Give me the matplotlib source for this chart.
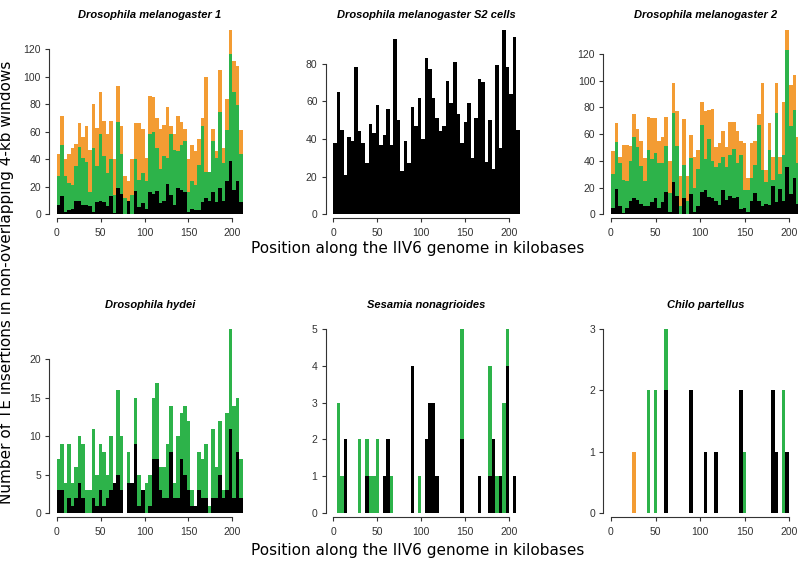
import numpy as np
import matplotlib.pyplot as plt

# start of each 4-kb window along the IIV6 genome (kb)
windows = np.arange(0, 212, 4)

# Drosophila melanogaster 1 : counts per window
mel1_black = [7, 13, 2, 3, 4, 10, 10, 7, 7, 6, 2, 9, 10, 9, 6, 13, 1, 19, 15, 0, 10, 0, 17, 5, 8, 4,
              16, 15, 17, 8, 10, 22, 14, 7, 19, 18, 16, 2, 4, 3, 3, 9, 12, 10, 16, 9, 19, 10, 24, 39, 18, 24, 9]
mel1_green = [21, 37, 26, 20, 17, 25, 39, 34, 31, 10, 46, 26, 48, 33, 24, 27, 13, 48, 29, 12, 0, 14, 23, 20, 22, 20,
              42, 45, 31, 25, 32, 19, 44, 40, 27, 32, 37, 14, 20, 18, 33, 55, 19, 21, 37, 32, 55, 27, 37, 77, 71, 55, 35]
mel1_orange = [16, 21, 12, 21, 27, 16, 17, 15, 26, 31, 32, 28, 31, 26, 28, 28, 26, 26, 20, 16, 14, 26, 26, 41, 32, 17,
               28, 25, 22, 29, 23, 37, 6, 11, 25, 17, 9, 24, 26, 25, 19, 6, 69, 0, 9, 5, 31, 11, 23, 18, 22, 29, 17]

# Drosophila melanogaster S2 cells
s2_black = [38, 65, 45, 21, 41, 39, 78, 44, 38, 27, 48, 43, 58, 37, 42, 56, 37, 93, 50, 23, 39, 27, 57, 47, 62, 40,
            83, 77, 62, 51, 44, 47, 71, 59, 81, 53, 38, 49, 59, 30, 51, 72, 70, 28, 50, 24, 79, 35, 98, 78, 64, 94, 45]

# Drosophila melanogaster 2
mel2_black = [5, 19, 6, 1, 5, 10, 12, 11, 8, 6, 6, 9, 12, 5, 9, 17, 2, 24, 14, 0, 12, 0, 15, 2, 6, 17,
              18, 13, 12, 10, 7, 18, 11, 14, 12, 13, 4, 5, 2, 10, 16, 10, 6, 8, 7, 21, 9, 19, 10, 35, 15, 27, 8]
mel2_green = [25, 35, 32, 25, 20, 30, 46, 39, 28, 19, 42, 32, 34, 33, 29, 34, 14, 52, 37, 6, 25, 10, 27, 18, 28, 50,
              23, 43, 28, 25, 31, 25, 24, 30, 37, 25, 40, 13, 16, 17, 21, 57, 27, 16, 41, 5, 67, 11, 34, 88, 51, 51, 30]
mel2_orange = [17, 14, 5, 26, 27, 11, 17, 14, 19, 17, 25, 31, 26, 17, 20, 22, 24, 22, 26, 23, 34, 19, 17, 23, 14, 17,
               36, 22, 39, 15, 15, 19, 15, 25, 20, 24, 11, 35, 9, 26, 18, 8, 65, 9, 20, 17, 22, 13, 40, 15, 31, 26, 20]

# Drosophila hydei
hyd_black = [3, 3, 0, 2, 1, 2, 4, 2, 0, 0, 2, 1, 3, 1, 2, 3, 4, 5, 3, 0, 4, 4, 9, 1, 3, 0,
             1, 7, 7, 3, 2, 2, 8, 2, 2, 7, 5, 3, 1, 1, 3, 2, 2, 0, 2, 2, 5, 2, 3, 11, 2, 8, 2]
hyd_green = [4, 6, 4, 7, 3, 4, 6, 7, 3, 3, 9, 4, 6, 7, 3, 7, 0, 11, 7, 0, 4, 0, 6, 4, 0, 4,
             4, 8, 10, 3, 4, 7, 6, 2, 8, 6, 9, 9, 2, 0, 5, 5, 7, 1, 9, 4, 7, 1, 10, 13, 12, 7, 5]

# Sesamia nonagrioides (only windows with insertions)
ses_windows = [4, 8, 12, 28, 36, 40, 44, 48, 56, 60, 64, 88, 96, 104, 108, 112, 116, 144, 164, 176, 180, 184, 188, 192, 196, 204]
ses_black = [0, 0, 2, 0, 1, 0, 0, 0, 1, 2, 0, 4, 0, 2, 3, 3, 1, 2, 1, 1, 2, 0, 1, 0, 4, 1]
ses_green = [3, 1, 0, 2, 1, 1, 1, 2, 0, 0, 1, 0, 1, 0, 0, 0, 0, 3, 0, 3, 0, 1, 0, 3, 1, 0]

# Chilo partellus
chi_windows = [24, 40, 48, 60, 88, 104, 116, 144, 148, 180, 184, 192, 196]
chi_black = [0, 0, 0, 2, 2, 1, 1, 2, 0, 2, 1, 0, 1]
chi_green = [0, 2, 2, 1, 0, 0, 0, 0, 1, 0, 0, 2, 0]
chi_orange = [1, 0, 0, 0, 0, 0, 0, 0, 0, 0, 0, 0, 0]

ORANGE = "#f39c33"
GREEN = "#2db34a"
AXCOL = "#333333"

W, H = 798, 561
fig = plt.figure(figsize=(W / 100, H / 100), dpi=100)

col_x0 = [56.7, 333.3, 611.0]     # pixel of 0 kb
col_scale = [0.878, 0.880, 0.890]  # pixels per kb
row_y0 = [214.3, 513.3]            # pixel of count 0


def panel(row, col, title, xs, layers, ymax, yticks):
    s = col_scale[col]
    left = col_x0[col] - 0.04 * 212 * s
    width = 212 * 1.08 * s
    top = row_y0[row] - 192
    bottom = row_y0[row] + 3.3
    ax = fig.add_axes([left / W, 1 - bottom / H, width / W, (bottom - top) / H])
    unit = 192 / (ymax * 1.04)
    ax.set_xlim(-0.04 * 212, 212 * 1.04)
    ax.set_ylim(-3.3 / unit, ymax * 1.04)

    # stacked counts: black at the bottom, then green, then orange
    base = np.zeros(len(xs))
    for vals, colr in layers:
        vals = np.array(vals)
        ax.bar(xs, vals, width=4, bottom=base, align="edge", color=colr,
               linewidth=0, antialiased=False)
        base = base + vals

    for side in ["top", "right"]:
        ax.spines[side].set_visible(False)
    ax.spines["left"].set_bounds(0, yticks[-1])
    ax.spines["bottom"].set_bounds(0, 200)
    for side in ["left", "bottom"]:
        ax.spines[side].set_color(AXCOL)
        ax.spines[side].set_linewidth(0.8)
    ax.set_xticks([0, 50, 100, 150, 200])
    ax.set_yticks(yticks)
    ax.tick_params(colors=AXCOL, length=3, width=0.8, labelsize=7.5)
    ax.tick_params(axis="x", pad=4.5)
    ax.tick_params(axis="y", pad=3)
    for lab in ax.get_xticklabels() + ax.get_yticklabels():
        lab.set_family("Liberation Sans")
    ax.patch.set_visible(False)

    cx = left + width / 2
    ty = 15 if row == 0 else 305
    fig.text(cx / W, 1 - ty / H, title, ha="center", va="center", size=8,
             fontweight="bold", fontstyle="italic", family="Liberation Sans")
    return ax


panel(0, 0, "Drosophila melanogaster 1", windows,
      [(mel1_black, "black"), (mel1_green, GREEN), (mel1_orange, ORANGE)],
      134, [0, 20, 40, 60, 80, 100, 120])
panel(0, 1, "Drosophila melanogaster S2 cells", windows,
      [(s2_black, "black")], 98, [0, 20, 40, 60, 80])
panel(0, 2, "Drosophila melanogaster 2", windows,
      [(mel2_black, "black"), (mel2_green, GREEN), (mel2_orange, ORANGE)],
      138, [0, 20, 40, 60, 80, 100, 120])
panel(1, 0, "Drosophila hydei", windows,
      [(hyd_black, "black"), (hyd_green, GREEN)], 24, [0, 5, 10, 15, 20])
panel(1, 1, "Sesamia nonagrioides", ses_windows,
      [(ses_black, "black"), (ses_green, GREEN)], 5, [0, 1, 2, 3, 4, 5])
panel(1, 2, "Chilo partellus", chi_windows,
      [(chi_black, "black"), (chi_green, GREEN), (chi_orange, ORANGE)], 3, [0, 1, 2, 3])

xlab = "Position along the IIV6 genome in kilobases"
fig.text(418 / W, 1 - 248 / H, xlab, ha="center", va="center", size=11, family="DejaVu Sans")
fig.text(418 / W, 1 - 550 / H, xlab, ha="center", va="center", size=11, family="DejaVu Sans")
fig.text(7 / W, 1 - 282 / H, "Number of TE insertions in non-overlapping 4-kb windows",
         ha="center", va="center", rotation=90, size=11, family="DejaVu Sans")

fig.savefig("out.png", dpi=100)
